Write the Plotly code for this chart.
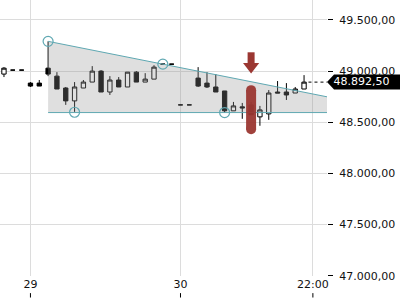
import plotly.graph_objects as go

# ---- data ----
idx = list(range(35))
opens  = [48971, 49010, 49010, 48883, 48883, 49029, 48951, 48835, 48709, 48835,
          48893, 49000, 48796, 48913, 48845, 48990, 48893, 48922, 49068, 49068,
          48670, 48670, 48932, 48883, 48845, 48806, 48612, 48651, 48670, 48553,
          48582, 48796, 48796, 48786, 48825]
highs  = [49039, 49010, 49010, 48893, 48913, 49291, 48990, 48845, 48893, 48913,
          49049, 49010, 48951, 48942, 48990, 49000, 48980, 49058, 49068, 49068,
          48670, 48670, 49039, 48990, 48971, 48806, 48699, 48689, 48699, 48660,
          48815, 48903, 48883, 48845, 48961]
lows   = [48942, 49010, 49010, 48845, 48854, 48951, 48825, 48670, 48602, 48835,
          48893, 48796, 48767, 48845, 48845, 48893, 48893, 48922, 49068, 49068,
          48670, 48670, 48845, 48835, 48796, 48592, 48612, 48534, 48573, 48466,
          48524, 48786, 48718, 48786, 48825]
closes = [49029, 49010, 49010, 48854, 48854, 48971, 48825, 48709, 48845, 48893,
          49000, 48796, 48913, 48845, 48990, 48893, 48922, 49039, 49068, 49068,
          48670, 48670, 48854, 48845, 48796, 48612, 48660, 48641, 48573, 48621,
          48786, 48786, 48767, 48825, 48892.5]

tick_vals = [3, 20, 35]
tick_text = ["29", "30", "22:00"]
y_ticks = [47000, 47500, 48000, 48500, 49000, 49500]
y_tick_text = ["47.000,00", "47.500,00", "48.000,00", "48.500,00", "49.000,00", "49.500,00"]
last_price_text = "48.892,50"

# triangle pattern
res_x = [5, 38]
res_y = [49291, 48725]
sup_x = [5, 38]
sup_y = [48595, 48595]
pivot_x = [5, 8, 18, 25]
pivot_y = [49291, 48598, 49068, 48595]

# highlight / signal
hl_x = 28
hl_y = [48814, 48433]
arrow_shaft_y = [49184, 49077]
arrow_head_y = 49044

last_price = closes[-1]
x_range = [-0.45, 36.6]
y_range = [46998, 49695]

teal = "#5fa8b2"
red = "rgb(155,55,50)"

fig = go.Figure()

# triangle fill
fig.add_trace(go.Scatter(
    x=[res_x[0], res_x[1], sup_x[1], sup_x[0]],
    y=[res_y[0], res_y[1], sup_y[1], sup_y[0]],
    fill="toself", fillcolor="rgba(150,150,150,0.3)", mode="none",
    hoverinfo="skip", showlegend=False))
fig.add_trace(go.Scatter(x=res_x, y=res_y, mode="lines",
                         line=dict(color=teal, width=1), showlegend=False))
fig.add_trace(go.Scatter(x=sup_x, y=sup_y, mode="lines",
                         line=dict(color=teal, width=1), showlegend=False))

# highlight bar
fig.add_trace(go.Scatter(x=[hl_x, hl_x], y=hl_y, mode="lines+markers",
                         line=dict(color=red, width=10),
                         marker=dict(color=red, size=10),
                         opacity=0.95, showlegend=False))

# candles
fig.add_trace(go.Candlestick(
    x=idx, open=opens, high=highs, low=lows, close=closes,
    increasing=dict(line=dict(color="black", width=1), fillcolor="white"),
    decreasing=dict(line=dict(color="black", width=1), fillcolor="black"),
    showlegend=False))

# pivot circles
fig.add_trace(go.Scatter(x=pivot_x, y=pivot_y, mode="markers",
                         marker=dict(symbol="circle-open", size=10,
                                     color=teal, line=dict(width=1.2)),
                         showlegend=False))

# arrow
fig.add_trace(go.Scatter(x=[hl_x, hl_x], y=arrow_shaft_y, mode="lines",
                         line=dict(color=red, width=7), showlegend=False))
fig.add_trace(go.Scatter(x=[hl_x], y=[arrow_head_y], mode="markers",
                         marker=dict(symbol="triangle-down", size=14, color=red,
                                     line=dict(width=0)),
                         showlegend=False))

# last price dashed line
fig.add_trace(go.Scatter(x=[idx[-1] + 0.5, x_range[1]], y=[last_price, last_price],
                         mode="lines", line=dict(color="black", width=1, dash="3px,3px"),
                         showlegend=False))

# last price tag: box shape (below) + text trace anchored at the plot's right edge
fig.add_shape(type="path", xref="paper", yref="y", xsizemode="pixel",
              ysizemode="pixel", xanchor=1, yanchor=last_price,
              path="M0,0 L7,7.5 L73,7.5 L73,-7.5 L7,-7.5 Z",
              fillcolor="black", line=dict(width=0), layer="below")
fig.add_trace(go.Scatter(x=[x_range[1] - 0.05], y=[last_price], mode="text",
                         text=["\u00a0\u00a0" + last_price_text],
                         textposition="middle right",
                         textfont=dict(family="DejaVu Sans", size=11, color="white"),
                         cliponaxis=False, hoverinfo="skip", showlegend=False))

# x tick marks below labels
for tv in tick_vals:
    fig.add_shape(type="line", xref="x", yref="paper", x0=tv, x1=tv,
                  y0=-0.062, y1=-0.078, line=dict(color="black", width=1))

fig.update_layout(
    width=400, height=300,
    margin=dict(l=0, r=73, t=0, b=24),
    paper_bgcolor="white", plot_bgcolor="rgba(0,0,0,0)",
    font=dict(family="DejaVu Sans", size=11, color="#111"),
    showlegend=False,
    xaxis=dict(range=x_range, tickvals=tick_vals, ticktext=tick_text,
               showgrid=True, gridcolor="#dcdcdc", gridwidth=1,
               zeroline=False, showline=False, ticks="",
               rangeslider=dict(visible=False), fixedrange=True),
    yaxis=dict(range=y_range, side="right", tickvals=y_ticks, ticktext=y_tick_text,
               showgrid=True, gridcolor="#dcdcdc", gridwidth=1,
               zeroline=False, showline=False, ticks="outside", ticklen=5,
               tickcolor="black", ticklabelstandoff=4,
               ticklabeloverflow="allow"),
)

fig.write_html("out.html")
